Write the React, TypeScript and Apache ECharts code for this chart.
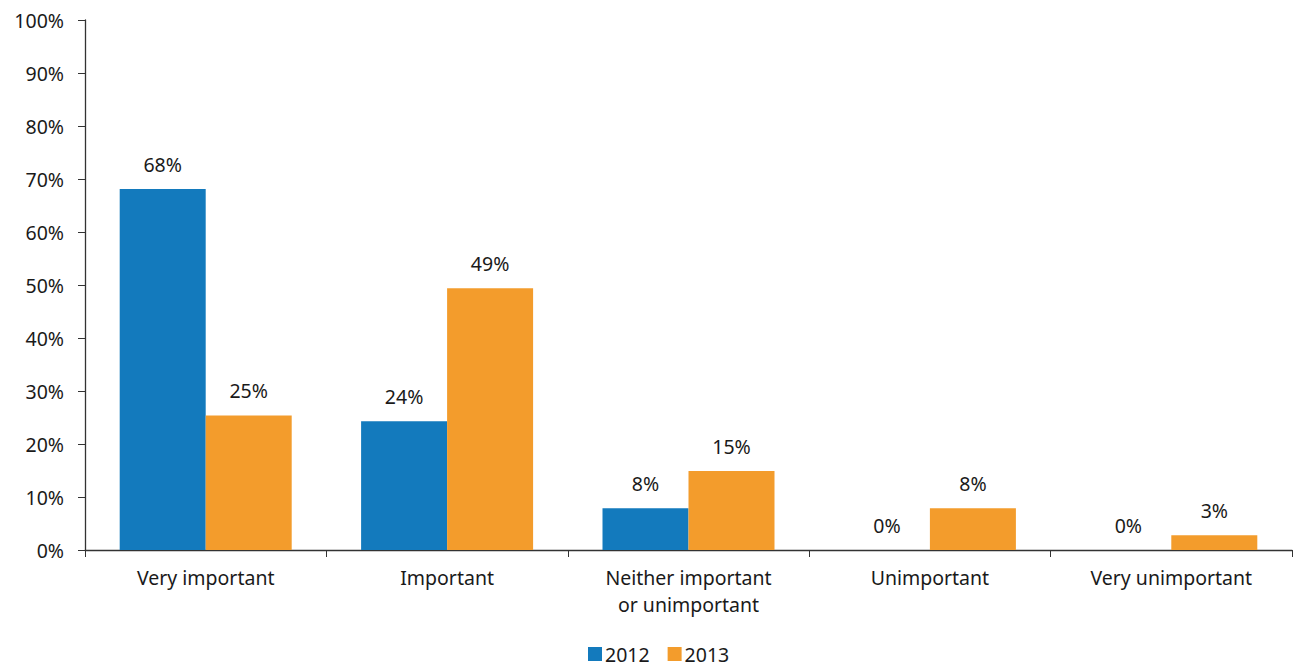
import React, { useEffect, useRef } from "react";
import * as echarts from "echarts";

const categories = [
  "Very important",
  "Important",
  "Neither important\nor unimportant",
  "Unimportant",
  "Very unimportant",
];
const values2012 = [68.1, 24.3, 7.9, 0, 0];
const values2013 = [25.4, 49.4, 14.9, 7.9, 2.8];
const yTicks = [0, 10, 20, 30, 40, 50, 60, 70, 80, 90, 100];

const FONT = "Noto Sans";
const FS = 19.5;

export default function App() {
  const ref = useRef<HTMLDivElement>(null);
  useEffect(() => {
    if (!ref.current) return;
    const chart = echarts.init(ref.current, null, { renderer: "svg" });
    const label = {
      show: true,
      position: "top" as const,
      distance: 15,
      color: "#1a1a1a",
      fontSize: FS,
      fontFamily: FONT,
      formatter: (p: any) => Math.round(p.value) + "%",
    };
    chart.setOption({
      animation: false,
      textStyle: { fontFamily: FONT },
      grid: { left: 85, right: 3, top: 20, bottom: 116, containLabel: false },
      legend: {
        bottom: -3,
        left: 583,
        itemWidth: 14,
        itemHeight: 14,
        itemGap: 18,
        icon: "rect",
        textStyle: { fontSize: FS, color: "#1a1a1a", fontFamily: FONT, padding: [0, 0, 0, -2] },
        data: ["2012", "2013"],
      },
      xAxis: {
        type: "category",
        data: categories,
        axisLine: { lineStyle: { color: "#333", width: 1.3 } },
        axisTick: { show: true, length: 7, lineStyle: { color: "#333" } },
        axisLabel: {
          color: "#1a1a1a",
          fontSize: FS,
          fontFamily: FONT,
          margin: 14,
          lineHeight: 27,
          interval: 0,
        },
      },
      yAxis: {
        type: "value",
        min: 0,
        max: 100,
        interval: 10,
        splitLine: { show: false },
        axisLine: { show: true, lineStyle: { color: "#333", width: 1.3 } },
        axisTick: { show: true, length: 7, lineStyle: { color: "#333" } },
        axisLabel: {
          color: "#1a1a1a",
          fontSize: FS,
          fontFamily: FONT,
          margin: 21,
          formatter: (v: number) => (yTicks.includes(v) ? v + "%" : ""),
        },
      },
      series: [
        {
          name: "2012",
          type: "bar",
          data: values2012,
          barWidth: 86,
          barGap: "0%",
          itemStyle: { color: "#137abd" },
          label,
        },
        {
          name: "2013",
          type: "bar",
          data: values2013,
          barWidth: 86,
          barGap: "0%",
          itemStyle: { color: "#f39c2c" },
          label,
        },
      ],
    });
    return () => chart.dispose();
  }, []);
  return (
    <div
      ref={ref}
      style={{ position: "fixed", left: 0, top: 0, width: 1295, height: 666, background: "#fff" }}
    />
  );
}
